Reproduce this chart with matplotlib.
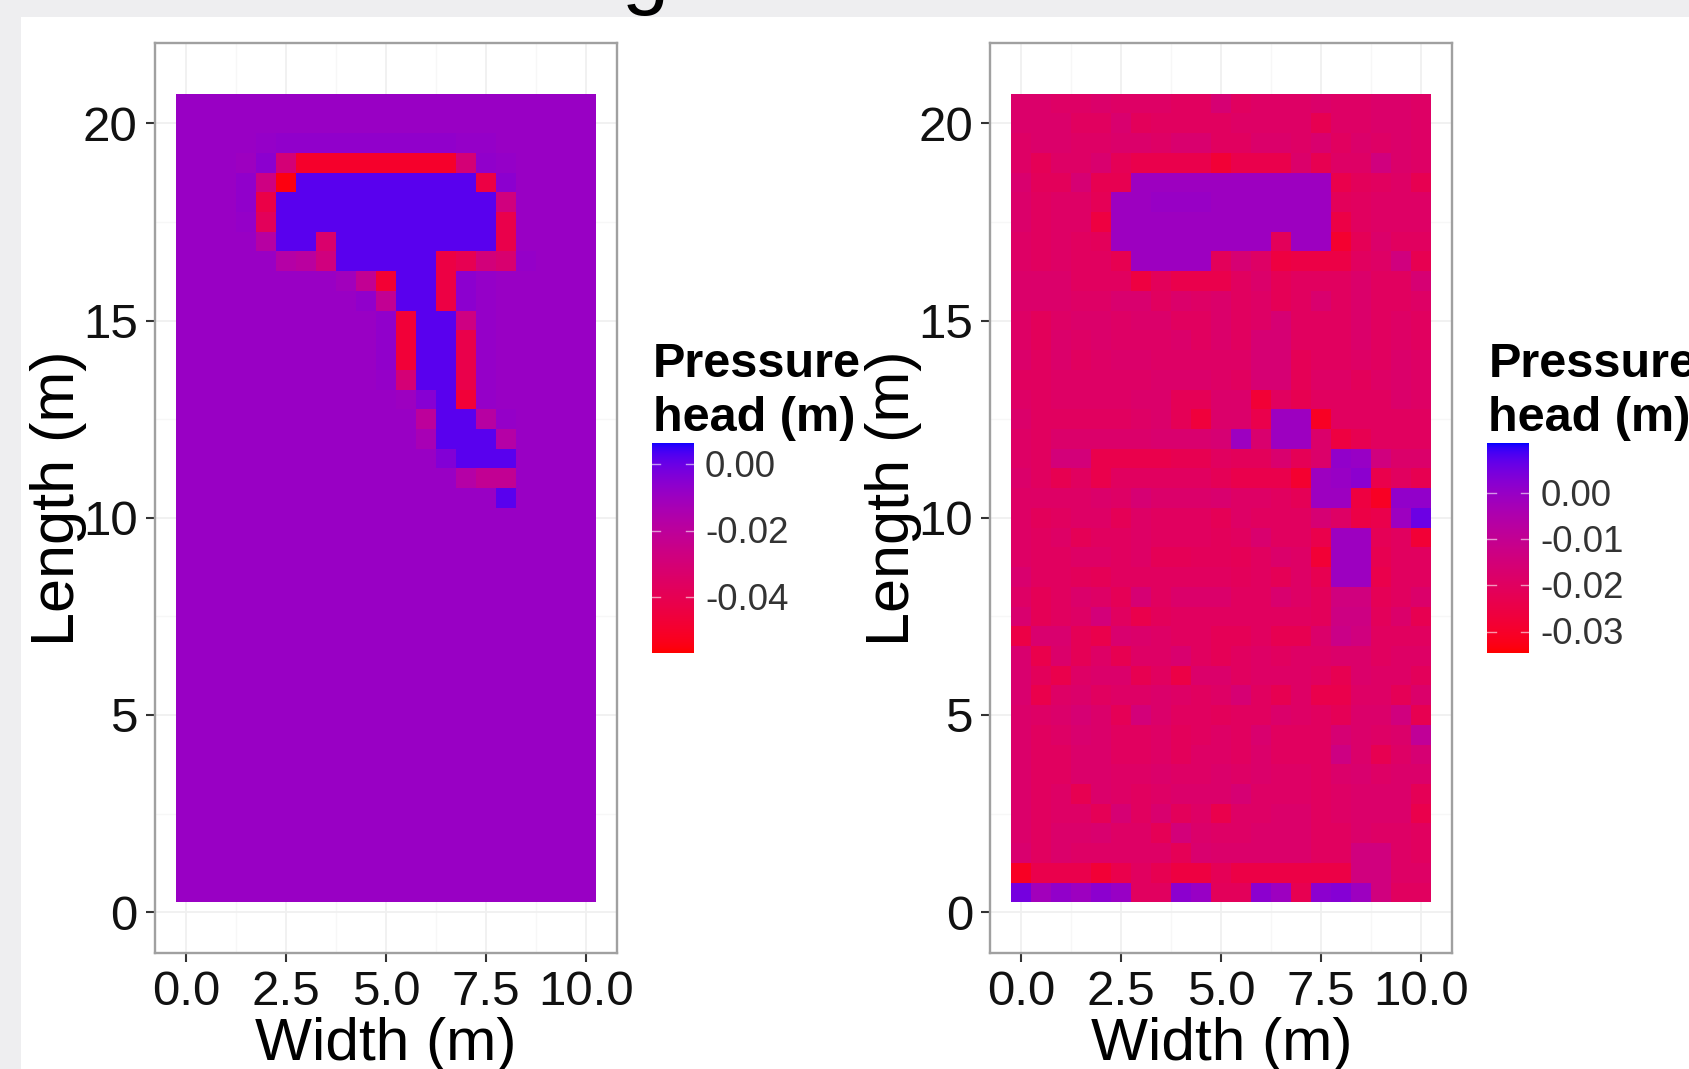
import numpy as np
import matplotlib
matplotlib.use("Agg")
import matplotlib.pyplot as plt
from matplotlib.colors import ListedColormap, Normalize
from matplotlib.patches import Rectangle

plt.rcParams['font.family'] = ['Liberation Sans', 'DejaVu Sans']

W, H = 1690, 1069

x_ticks = [0.0, 2.5, 5.0, 7.5, 10.0]
x_tick_labels = ['0.0', '2.5', '5.0', '7.5', '10.0']
y_ticks = [0, 5, 10, 15, 20]
y_tick_labels = ['0', '5', '10', '15', '20']
x_centers = [i * 0.5 for i in range(21)]
y_centers_top_down = [20.5 - i * 0.5 for i in range(41)]

# pressure head in mm, rows listed from the top of the panel (y = 20.5) down
left_head_mm = [
[-9]*21,
[-9]*21,
[-9,-9,-9,-9,-8,-7,-7,-7,-7,-7,-7,-7,-7,-7,-8,-8,-9,-9,-9,-9,-9],
[-9,-9,-9,-10,-6,-30,-50,-50,-50,-50,-50,-50,-50,-50,-30,-7,-8,-9,-9,-9,-9],
[-9,-9,-9,-7,-27,-55,2,2,2,2,2,2,2,2,2,-44,-6,-9,-9,-9,-9],
[-9,-9,-9,-7,-43,2,2,2,2,2,2,2,2,2,2,2,-28,-9,-9,-9,-9],
[-9,-9,-9,-8,-38,2,2,2,2,2,2,2,2,2,2,2,-42,-9,-9,-9,-9],
[-9,-9,-9,-9,-18,2,2,-33,2,2,2,2,2,2,2,2,-42,-9,-9,-9,-9],
[-9,-9,-9,-9,-9,-17,-19,-28,2,2,2,2,2,-44,-40,-29,-32,-8,-9,-9,-9],
[-9,-9,-9,-9,-9,-9,-9,-9,-11,-22,-48,2,2,-44,-6,-8,-9,-9,-9,-9,-9],
[-9,-9,-9,-9,-9,-9,-9,-9,-9,-7,-22,2,2,-44,-6,-8,-9,-9,-9,-9,-9],
[-9,-9,-9,-9,-9,-9,-9,-9,-9,-9,-7,-47,2,2,-27,-8,-9,-9,-9,-9,-9],
[-9,-9,-9,-9,-9,-9,-9,-9,-9,-9,-7,-47,2,2,-42,-8,-9,-9,-9,-9,-9],
[-9,-9,-9,-9,-9,-9,-9,-9,-9,-9,-7,-47,2,2,-42,-8,-9,-9,-9,-9,-9],
[-9,-9,-9,-9,-9,-9,-9,-9,-9,-9,-8,-30,2,2,-42,-8,-9,-9,-9,-9,-9],
[-9,-9,-9,-9,-9,-9,-9,-9,-9,-9,-9,-10,-5,2,-47,-8,-9,-9,-9,-9,-9],
[-9,-9,-9,-9,-9,-9,-9,-9,-9,-9,-9,-9,-20,2,2,-18,-8,-9,-9,-9,-9],
[-9,-9,-9,-9,-9,-9,-9,-9,-9,-9,-9,-9,-13,2,2,2,-17,-9,-9,-9,-9],
[-9,-9,-9,-9,-9,-9,-9,-9,-9,-9,-9,-9,-9,-4,2,2,2,-9,-9,-9,-9],
[-9,-9,-9,-9,-9,-9,-9,-9,-9,-9,-9,-9,-9,-9,-17,-22,-22,-9,-9,-9,-9],
[-9,-9,-9,-9,-9,-9,-9,-9,-9,-9,-9,-9,-9,-9,-9,-9,2,-9,-9,-9,-9],
[-9]*21, [-9]*21, [-9]*21, [-9]*21, [-9]*21, [-9]*21, [-9]*21, [-9]*21, [-9]*21,
[-9]*21, [-9]*21, [-9]*21, [-9]*21, [-9]*21, [-9]*21, [-9]*21, [-9]*21, [-9]*21,
[-9]*21, [-9]*21,
]

right_head_mm = [
[-18,-18,-19,-19,-18,-19,-19,-19,-20,-20,-16,-20,-19,-19,-19,-18,-19,-19,-18,-18,-19],
[-18,-18,-18,-20,-20,-17,-21,-20,-20,-20,-20,-19,-19,-19,-19,-23,-19,-19,-18,-18,-19],
[-19,-18,-18,-19,-19,-18,-18,-19,-17,-17,-20,-20,-18,-18,-19,-17,-20,-18,-19,-18,-19],
[-19,-22,-19,-19,-17,-22,-24,-24,-24,-24,-28,-24,-24,-24,-18,-23,-19,-19,-14,-18,-19],
[-17,-21,-21,-16,-23,-23,-1,-1,-1,-1,-1,-1,-1,-1,-1,-1,-24,-21,-20,-19,-23],
[-18,-20,-19,-19,-22,-1,-1,0,0,0,-1,-1,-1,-1,-1,-1,-21,-20,-19,-19,-19],
[-18,-20,-19,-19,-26,-1,-1,-1,-1,-1,-1,-1,-1,-1,-1,-1,-25,-20,-19,-19,-19],
[-19,-20,-19,-20,-21,-1,-1,-1,-1,-1,-1,-1,-1,-21,-1,-1,-29,-22,-18,-20,-20],
[-19,-20,-19,-20,-20,-23,-1,-1,-1,-1,-21,-16,-19,-26,-25,-25,-25,-20,-19,-14,-23],
[-18,-18,-18,-20,-20,-20,-26,-21,-24,-24,-24,-20,-18,-22,-20,-20,-20,-18,-20,-20,-16],
[-18,-18,-18,-19,-19,-17,-17,-20,-18,-19,-18,-20,-19,-22,-20,-17,-20,-18,-20,-20,-19],
[-19,-21,-19,-18,-18,-19,-18,-18,-20,-20,-18,-20,-19,-16,-20,-20,-20,-18,-20,-19,-20],
[-19,-21,-18,-19,-18,-19,-19,-19,-18,-20,-18,-20,-16,-16,-20,-20,-20,-18,-20,-19,-20],
[-18,-20,-18,-20,-19,-18,-18,-19,-19,-19,-19,-19,-16,-16,-22,-20,-20,-19,-20,-18,-19],
[-20,-20,-19,-19,-19,-19,-19,-18,-18,-18,-19,-20,-16,-16,-22,-19,-19,-21,-19,-18,-19],
[-19,-20,-19,-19,-19,-19,-18,-18,-22,-22,-18,-18,-28,-20,-23,-20,-20,-20,-20,-18,-19],
[-18,-20,-20,-20,-20,-20,-19,-18,-22,-27,-18,-18,-24,-1,-1,-31,-20,-20,-20,-20,-20],
[-19,-20,-18,-18,-18,-18,-18,-17,-17,-17,-16,-1,-17,-1,-1,-18,-26,-23,-20,-20,-20],
[-19,-20,-15,-15,-24,-24,-24,-24,-23,-23,-20,-21,-21,-17,-22,-18,1,0,-14,-18,-18],
[-18,-20,-23,-20,-24,-20,-20,-20,-20,-20,-22,-24,-24,-24,-29,-1,0,2,-24,-20,-23],
[-19,-19,-19,-19,-18,-19,-16,-18,-18,-18,-17,-19,-19,-20,-22,-1,-1,-26,-31,1,1],
[-19,-21,-20,-19,-19,-22,-19,-20,-20,-20,-22,-19,-20,-20,-20,-16,-19,-25,-24,-1,6],
[-19,-20,-19,-22,-20,-20,-19,-20,-20,-20,-21,-20,-17,-20,-20,-24,-1,-1,-22,-20,-28],
[-19,-20,-20,-19,-19,-20,-19,-22,-22,-21,-21,-22,-20,-18,-19,-28,-1,-1,-23,-20,-20],
[-17,-20,-20,-21,-22,-20,-20,-20,-20,-20,-20,-21,-20,-22,-19,-23,-1,-1,-24,-20,-20],
[-19,-22,-20,-18,-19,-22,-16,-20,-18,-18,-18,-20,-20,-17,-19,-21,-14,-14,-22,-20,-18],
[-17,-22,-20,-19,-15,-20,-24,-21,-20,-20,-20,-20,-20,-20,-20,-21,-13,-13,-21,-18,-23],
[-25,-17,-17,-22,-24,-17,-18,-19,-20,-20,-22,-22,-20,-23,-23,-18,-12,-14,-20,-20,-20],
[-17,-24,-18,-22,-19,-23,-19,-19,-17,-20,-22,-20,-19,-20,-19,-19,-18,-18,-20,-19,-19],
[-17,-21,-24,-19,-18,-18,-23,-20,-25,-18,-18,-20,-19,-19,-19,-20,-23,-18,-19,-19,-21],
[-17,-24,-19,-18,-20,-19,-19,-18,-19,-20,-19,-16,-20,-23,-19,-24,-24,-19,-19,-22,-18],
[-18,-19,-18,-16,-18,-22,-15,-18,-20,-20,-21,-20,-20,-18,-19,-20,-22,-18,-18,-14,-23],
[-18,-20,-19,-17,-18,-20,-20,-19,-21,-20,-19,-20,-17,-20,-20,-20,-16,-18,-19,-18,-9],
[-18,-20,-20,-18,-18,-20,-20,-19,-21,-19,-19,-20,-18,-20,-20,-20,-13,-18,-23,-19,-16],
[-18,-20,-20,-18,-18,-19,-19,-18,-19,-19,-18,-19,-18,-19,-19,-20,-18,-17,-19,-18,-18],
[-18,-20,-19,-23,-18,-19,-20,-19,-18,-18,-18,-16,-19,-19,-19,-20,-19,-18,-18,-18,-22],
[-18,-20,-19,-19,-22,-16,-20,-17,-21,-19,-24,-19,-19,-18,-18,-20,-19,-18,-18,-18,-24],
[-18,-20,-18,-18,-17,-19,-19,-22,-15,-18,-19,-19,-18,-18,-18,-20,-20,-18,-19,-19,-20],
[-17,-20,-18,-19,-19,-19,-19,-19,-22,-17,-18,-18,-18,-18,-18,-20,-20,-14,-14,-19,-20],
[-31,-24,-24,-24,-28,-24,-20,-23,-26,-26,-22,-25,-25,-25,-25,-25,-25,-14,-14,-19,-19],
[5,-2,1,-1,2,0,-20,-20,2,0,-21,-21,2,-1,-23,2,3,-1,-14,-20,-20],
]

left_limits = (-0.0566, 0.0065)
right_limits = (-0.0346, 0.0110)
left_bar_ticks = [0.00, -0.02, -0.04]
left_bar_labels = ['0.00', '-0.02', '-0.04']
right_bar_ticks = [0.00, -0.01, -0.02, -0.03]
right_bar_labels = ['0.00', '-0.01', '-0.02', '-0.03']


def lab_to_srgb(L, a, b):
    fy_ = (L + 16) / 116
    fx_ = fy_ + a / 500
    fz_ = fy_ - b / 200
    def finv(t):
        return np.where(t > 6 / 29, t ** 3, 3 * (6 / 29) ** 2 * (t - 4 / 29))
    X, Y, Z = 0.95047 * finv(fx_), finv(fy_), 1.08883 * finv(fz_)
    rgb = np.stack([3.2406 * X - 1.5372 * Y - 0.4986 * Z,
                    -0.9689 * X + 1.8758 * Y + 0.0415 * Z,
                    0.0557 * X - 0.2040 * Y + 1.0570 * Z], axis=-1)
    rgb = np.clip(rgb, 0, 1)
    return np.where(rgb <= 0.0031308, 12.92 * rgb, 1.055 * rgb ** (1 / 2.4) - 0.055)


t = np.linspace(0, 1, 512)
cmap = ListedColormap(lab_to_srgb(53.24 + t * (32.30 - 53.24),
                                  80.09 + t * (79.19 - 80.09),
                                  67.20 + t * (-107.86 - 67.20)))

fig = plt.figure(figsize=(W / 100, H / 100), dpi=100, facecolor='white')
GRAY = '#eeeef0'
fig.patches.append(Rectangle((0, 1 - 16.5 / H), 1, 16.5 / H, transform=fig.transFigure, fc=GRAY, ec='none', zorder=-5))
fig.patches.append(Rectangle((0, 0), 21.5 / W, 1, transform=fig.transFigure, fc=GRAY, ec='none', zorder=-5))


def px_axes(l, t_, r, b):
    return fig.add_axes([l / W, 1 - b / H, (r - l) / W, (b - t_) / H])


def fx(p):
    return p / W


def fy(p):
    return 1 - p / H


fig.text(fx(645), fy(-2), 'g', fontsize=61, ha='center', va='baseline', color='black')


def panel(dx, head_mm, limits, bar_ticks, bar_labels, bar_y0, bar_step_px):
    left, right, top, bottom = 155.0, 617.0, 43.0, 952.5
    ax = px_axes(left + dx, top, right + dx, bottom)
    x0, x10 = 186.0, 586.0
    y0, y20 = 912.2, 123.3
    ax.set_xlim((left - x0) / ((x10 - x0) / 10), (right - x0) / ((x10 - x0) / 10))
    ax.set_ylim((y0 - bottom) / ((y0 - y20) / 20), (y0 - top) / ((y0 - y20) / 20))
    ax.set_axisbelow(True)
    ax.set_xticks(x_ticks)
    ax.set_xticklabels(x_tick_labels)
    ax.set_yticks(y_ticks)
    ax.set_yticklabels(y_tick_labels)
    ax.set_xticks([1.25, 3.75, 6.25, 8.75], minor=True)
    ax.set_yticks([2.5, 7.5, 12.5, 17.5], minor=True)
    ax.grid(True, which='major', color='#f0f0f0', lw=1.3)
    ax.grid(True, which='minor', color='#f7f7f7', lw=1.0)
    ax.tick_params(which='minor', length=0)
    ax.tick_params(which='major', length=6.5, width=1.5, color='#333333', labelsize=35.5,
                   labelcolor='#111111', pad=6)
    for s in ax.spines.values():
        s.set_color('#a0a0a0')
        s.set_linewidth(1.7)
    z = np.array(head_mm, dtype=float) / 1000
    ax.pcolormesh(x_centers, y_centers_top_down, z, shading='nearest', cmap=cmap,
                  norm=Normalize(*limits), antialiased=False, zorder=2)

    fig.text(fx(386 + dx), fy(1060), 'Width (m)', fontsize=43.5, ha='center', va='baseline', color='black')
    fig.text(fx(74 + dx), fy(498), 'Length (m)', fontsize=44, rotation=90, ha='center', va='baseline',
             rotation_mode='anchor', color='black')

    fig.text(fx(653 + dx), fy(377), 'Pressure', fontsize=35, fontweight='bold', ha='left', va='baseline', color='black')
    fig.text(fx(653 + dx), fy(431), 'head (m)', fontsize=35, fontweight='bold', ha='left', va='baseline', color='black')

    cax = px_axes(652 + dx, 442.7, 694 + dx, 652.7)
    grad = np.linspace(limits[1], limits[0], 256).reshape(-1, 1)
    cax.imshow(grad, aspect='auto', cmap=cmap, norm=Normalize(*limits),
               extent=[0, 1, limits[0], limits[1]])
    cax.set_xticks([])
    cax.set_yticks([])
    for s in cax.spines.values():
        s.set_visible(False)
    for v, lab in zip(bar_ticks, bar_labels):
        cax.plot([0, 0.2], [v, v], color='white', lw=1.0, alpha=0.6)
        cax.plot([0.8, 1], [v, v], color='white', lw=1.0, alpha=0.6)
        py = bar_y0 + (0 - v) * bar_step_px
        fig.text(fx(705 + dx), fy(py + 3), lab, fontsize=26.5, ha='left', va='center', color='#333333')
    cax.set_xlim(0, 1)
    cax.set_ylim(*limits)


panel(0, left_head_mm, left_limits, left_bar_ticks, left_bar_labels, 464.3, 3325)
panel(835.3, right_head_mm, right_limits, right_bar_ticks, right_bar_labels, 493.6, 4600)

fig.savefig('out.png', dpi=100, facecolor=fig.get_facecolor())
